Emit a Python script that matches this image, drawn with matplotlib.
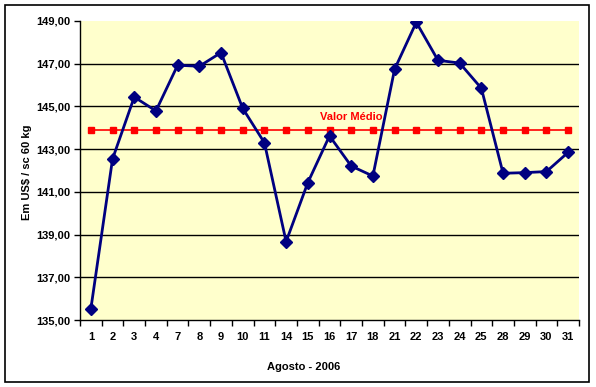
import matplotlib
matplotlib.use("Agg")
import matplotlib.pyplot as plt
from matplotlib.patches import Rectangle
from matplotlib.ticker import FixedLocator, FuncFormatter

# ── data ──────────────────────────────────────────────────────────────────────
dias = ["1", "2", "3", "4", "7", "8", "9", "10", "11", "14", "15", "16",
        "17", "18", "21", "22", "23", "24", "25", "28", "29", "30", "31"]
precos = [135.52, 142.54, 145.44, 144.79, 146.93, 146.88, 147.52, 144.91,
          143.30, 138.67, 141.43, 143.62, 142.21, 141.74, 146.74, 148.94,
          147.16, 147.03, 145.85, 141.87, 141.90, 141.95, 142.85]
valor_medio = 143.90
y_ticks = [135, 137, 139, 141, 143, 145, 147, 149]

plt.rcParams["font.family"] = ["Liberation Sans", "DejaVu Sans"]
plt.rcParams["font.weight"] = "bold"

W, H = 596, 387
fig = plt.figure(figsize=(W / 100, H / 100), dpi=100)
fig.patch.set_facecolor("white")
ax = fig.add_axes([80 / W, 67 / H, 499 / W, 299 / H])
ax.set_facecolor("#FFFFCC")

xs = list(range(len(dias)))
media = [valor_medio] * len(dias)

for y in y_ticks[1:-1]:
    ax.axhline(y, color="black", linewidth=1, zorder=1)

ax.plot(xs, media, "-s", color="#FF0000", linewidth=1.2, markersize=4.5, zorder=2)
ax.plot(xs, precos, "-D", color="#000080", linewidth=2, markersize=6.5, zorder=3)

ax.annotate("Valor Médio", (12, valor_medio), xytext=(0, 5.5), textcoords="offset points",
            ha="center", va="bottom", color="#FF0000", fontsize=8, fontweight="bold")

ax.set_xlim(-0.5, len(dias) - 0.5)
ax.set_ylim(135, 149)
ax.set_yticks(y_ticks)
ax.yaxis.set_major_formatter(FuncFormatter(lambda v, p: f"{v:.2f}".replace(".", ",")))
ax.set_xticks(xs)
ax.set_xticklabels(dias)
ax.xaxis.set_minor_locator(FixedLocator([i - 0.5 for i in range(len(dias) + 1)]))
ax.tick_params(axis="x", which="major", length=0, pad=9, labelsize=8)
ax.tick_params(axis="x", which="minor", length=4, width=1, direction="out")
ax.tick_params(axis="y", length=4, width=1, pad=3, labelsize=8)

for side in ("top", "right"):
    ax.spines[side].set_visible(False)
ax.spines["left"].set_linewidth(1)
ax.spines["bottom"].set_linewidth(1)

# axis titles placed like the original chart (x title centred on the chart area)
fig.text(27 / W, 1 - 172 / H, "Em US$ / sc 60 kg", rotation=90, ha="center", va="center",
         fontsize=8, fontweight="bold")
fig.text(304 / W, 1 - 367 / H, "Agosto - 2006", ha="center", va="center",
         fontsize=8, fontweight="bold")

fig.patches.append(Rectangle((5 / W, 5 / H), 584 / W, 377 / H, transform=fig.transFigure,
                             fill=False, edgecolor="black", linewidth=1.2))

fig.savefig("out.png", dpi=100)
